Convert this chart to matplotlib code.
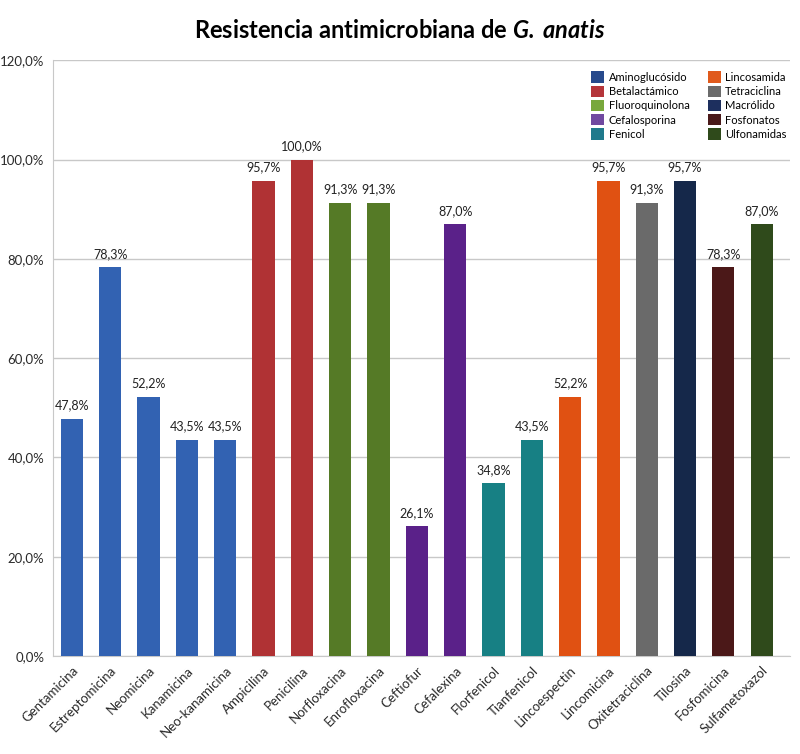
import matplotlib.pyplot as plt
from matplotlib.patches import Patch
import numpy as np

plt.rcParams['font.family'] = ['Lato', 'DejaVu Sans']
plt.rcParams['mathtext.fontset'] = 'custom'
plt.rcParams['mathtext.bfit'] = 'Lato:bold:italic'

# Data
antibiotics = ['Gentamicina', 'Estreptomicina', 'Neomicina', 'Kanamicina', 'Neo-kanamicina',
               'Ampicilina', 'Penicilina', 'Norfloxacina', 'Enrofloxacina', 'Ceftiofur',
               'Cefalexina', 'Florfenicol', 'Tianfenicol', 'Lincoespectin', 'Lincomicina',
               'Oxitetraciclina', 'Tilosina', 'Fosfomicina', 'Sulfametoxazol']
resistance = [47.8, 78.3, 52.2, 43.5, 43.5, 95.7, 100.0, 91.3, 91.3, 26.1,
              87.0, 34.8, 43.5, 52.2, 95.7, 91.3, 95.7, 78.3, 87.0]
groups = ['Aminoglucósido'] * 5 + ['Betalactámico'] * 2 + ['Fluoroquinolona'] * 2 + \
         ['Cefalosporina'] * 2 + ['Fenicol'] * 2 + ['Lincosamida'] * 2 + \
         ['Tetraciclina', 'Macrólido', 'Fosfonatos', 'Ulfonamidas']
group_names = ['Aminoglucósido', 'Betalactámico', 'Fluoroquinolona', 'Cefalosporina', 'Fenicol',
               'Lincosamida', 'Tetraciclina', 'Macrólido', 'Fosfonatos', 'Ulfonamidas']
group_colors = ['#3262b2', '#b03234', '#557a26', '#5a2189', '#178084',
                '#e05112', '#6a6a6a', '#15284a', '#4b1818', '#2f4a1b']
legend_colors = ['#274a8c', '#b5353a', '#78a83c', '#7049a0', '#1f7a8c',
                 '#e05a1c', '#6b6b6b', '#1d2f5e', '#4a1a1a', '#2f4a1b']
yticks = [0, 20, 40, 60, 80, 100, 120]


def pct(v):
    return f'{v:.1f}%'.replace('.', ',')


color_of = dict(zip(group_names, group_colors))
colors = [color_of[g] for g in groups]

fig = plt.figure(figsize=(8, 7.54), dpi=100)
ax = fig.add_axes([0.066, 0.130, 0.922, 0.790])

x = np.arange(len(antibiotics))
ax.bar(x, resistance, width=0.58, color=colors, zorder=3)

for xi, v in zip(x, resistance):
    ax.text(xi, v + 1.5, pct(v), ha='center', va='bottom', fontsize=9, color='#222222')

ax.set_ylim(0, 120)
ax.set_xlim(-0.5, len(antibiotics) - 0.25)
ax.set_yticks(yticks)
ax.set_yticklabels([pct(t) for t in yticks], fontsize=9.5, color='#2a2a2a')
ax.yaxis.grid(True, color='#c8c8c8', linewidth=1, zorder=0)
ax.set_xticks(x)
ax.set_xticklabels(antibiotics, rotation=45, ha='right', rotation_mode='anchor',
                   fontsize=9.5, color='#2a2a2a')
ax.tick_params(length=0, pad=6)

for side in ['top', 'right']:
    ax.spines[side].set_visible(False)
ax.spines['left'].set_color('#c8c8c8')
ax.spines['bottom'].set_color('#c8c8c8')

handles = [Patch(facecolor=c, edgecolor='none') for c in legend_colors]
leg = ax.legend(handles, group_names, ncol=2, loc='upper right', bbox_to_anchor=(1.01, 1.0),
                fontsize=8, frameon=True, fancybox=False, edgecolor='white',
                handlelength=1.2, handleheight=1.2, handletextpad=0.4,
                columnspacing=1.6, labelspacing=0.25, borderpad=0.5)
leg.get_frame().set_alpha(1)

fig.suptitle('Resistencia antimicrobiana de $\\mathbfit{G.\\,anatis}$', fontsize=17,
             fontweight='bold', y=0.975)

fig.savefig('out.png', dpi=100)
